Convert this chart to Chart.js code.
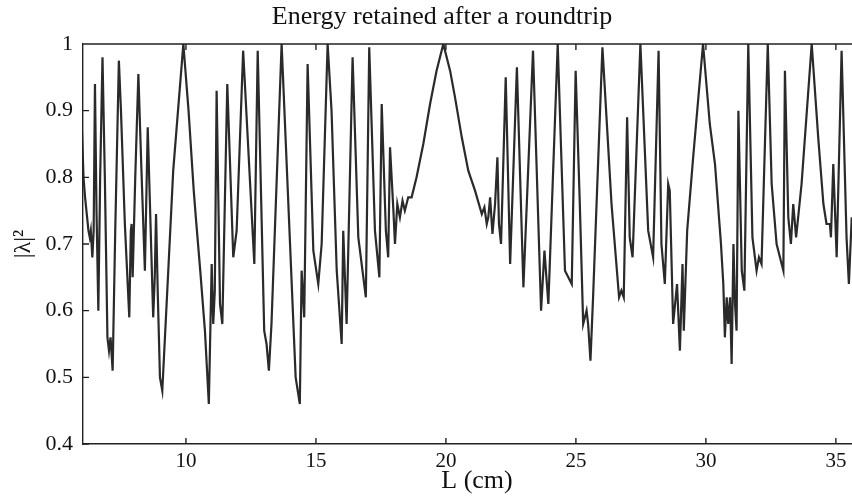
<!DOCTYPE html>
<html>
<head>
<meta charset="utf-8">
<script src="https://cdn.jsdelivr.net/npm/chart.js@4.4.0/dist/chart.umd.min.js"></script>
<style>
  html, body { margin: 0; padding: 0; background: #fff; }
  #chart { display: block; }
</style>
</head>
<body>
<canvas id="chart" width="852" height="496"></canvas>
<script>
// Cavity length L (cm)
const lengthCm = [
  6.00, 6.06, 6.12, 6.25, 6.30, 6.34, 6.40, 6.45, 6.50, 6.56, 6.63, 6.70, 6.79, 6.88, 6.98, 7.04, 7.10, 7.18,
  7.28, 7.42, 7.50, 7.65, 7.82, 7.88, 7.91, 7.95, 8.05, 8.17, 8.28, 8.42, 8.53, 8.60, 8.74, 8.80, 8.85, 8.92,
  9.00, 9.09, 9.32, 9.51, 9.90, 10.10, 10.30, 10.38, 10.55, 10.73, 10.88,
  10.99, 11.05, 11.11, 11.18, 11.31, 11.40, 11.59, 11.82, 11.95, 12.20, 12.63, 12.76, 13.01, 13.10, 13.19, 13.29,
  13.68, 14.22, 14.38, 14.45, 14.55, 14.68, 14.90, 15.09, 15.22, 15.45,
  15.60, 15.80, 15.99, 16.05, 16.18, 16.41, 16.63, 16.92, 17.05, 17.27, 17.44, 17.53, 17.69, 17.78, 17.85, 17.98,
  18.04, 18.13, 18.23, 18.33, 18.42, 18.55, 18.68, 18.87, 19.13, 19.39, 19.64, 19.90, 20.16,
  20.35, 20.61, 20.86, 21.12, 21.38, 21.48, 21.57, 21.63, 21.70, 21.79, 21.89, 21.98, 22.04, 22.12, 22.30, 22.47,
  22.73, 22.98, 23.35, 23.66, 23.79, 23.94, 24.30, 24.58, 24.84, 24.99,
  25.15, 25.28, 25.41, 25.47, 25.56, 25.66, 26.02, 26.37, 26.66, 26.75, 26.84, 26.97, 27.07, 27.18, 27.48, 27.78,
  27.97, 28.18, 28.29, 28.42, 28.55, 28.61, 28.74, 28.89, 29.00, 29.10, 29.15, 29.28, 29.51, 29.89, 30.15,
  30.35, 30.58, 30.67, 30.73, 30.80, 30.86, 30.93, 30.99, 31.06, 31.12, 31.18, 31.25, 31.38, 31.48, 31.63, 31.79,
  31.95, 32.04, 32.14, 32.38, 32.53, 32.72, 32.98, 33.04, 33.17, 33.27, 33.36, 33.47, 33.68, 34.07, 34.32, 34.52,
  34.64, 34.77, 34.81, 34.90, 35.03, 35.22, 35.41, 35.50, 35.61
];

// Energy retained |lambda|^2 at each length
const retained = [
  0.87, 0.80, 0.77, 0.72, 0.71, 0.72, 0.68, 0.72, 0.94, 0.75, 0.60, 0.80, 0.98, 0.80, 0.56, 0.54, 0.56, 0.51,
  0.72, 0.975, 0.90, 0.73, 0.59, 0.72, 0.73, 0.65, 0.80, 0.955, 0.82, 0.66, 0.875, 0.78, 0.59, 0.65, 0.745, 0.62,
  0.50, 0.48, 0.66, 0.81, 1.00, 0.90, 0.78, 0.74, 0.66, 0.57, 0.46,
  0.67, 0.58, 0.63, 0.93, 0.61, 0.58, 0.94, 0.68, 0.72, 0.99, 0.67, 0.99, 0.57, 0.55, 0.51, 0.58,
  1.00, 0.50, 0.46, 0.66, 0.59, 0.97, 0.69, 0.64, 0.70, 1.00,
  0.90, 0.66, 0.55, 0.72, 0.58, 0.98, 0.71, 0.62, 0.995, 0.72, 0.65, 0.91, 0.72, 0.68, 0.845, 0.75,
  0.70, 0.76, 0.74, 0.765, 0.75, 0.77, 0.77, 0.80, 0.85, 0.91, 0.96, 1.00, 0.96,
  0.92, 0.86, 0.81, 0.78, 0.745, 0.755, 0.73, 0.74, 0.77, 0.715, 0.76, 0.83, 0.73, 0.70, 0.95, 0.67,
  0.965, 0.635, 0.99, 0.60, 0.69, 0.61, 1.00, 0.66, 0.64, 0.96,
  0.76, 0.58, 0.60, 0.58, 0.525, 0.62, 0.995, 0.76, 0.62, 0.63, 0.62, 0.89, 0.71, 0.68, 1.00, 0.72,
  0.68, 0.99, 0.70, 0.64, 0.79, 0.78, 0.58, 0.64, 0.54, 0.67, 0.57, 0.72, 0.83, 1.00, 0.88,
  0.82, 0.70, 0.64, 0.56, 0.62, 0.58, 0.62, 0.52, 0.70, 0.61, 0.57, 0.90, 0.66, 0.63, 1.00, 0.71,
  0.66, 0.68, 0.67, 1.00, 0.79, 0.70, 0.66, 0.96, 0.74, 0.70, 0.76, 0.71, 0.79, 1.00, 0.86, 0.76,
  0.73, 0.73, 0.71, 0.82, 0.68, 0.99, 0.71, 0.64, 0.74
];

const xTicks = [10, 15, 20, 25, 30, 35];
const yTicks = [0.4, 0.5, 0.6, 0.7, 0.8, 0.9, 1];

const serif = "'Liberation Serif', 'DejaVu Serif', serif";
const ink = "#222";

// MATLAB-style box: top line, inward ticks, titles
const framePlugin = {
  id: "frame",
  afterDraw(chart) {
    const { ctx, chartArea: a, scales } = chart;
    ctx.save();
    ctx.strokeStyle = ink;
    ctx.lineWidth = 1.4;
    ctx.beginPath();
    ctx.moveTo(a.left, a.top);
    ctx.lineTo(a.right, a.top);
    xTicks.forEach((v) => {
      const px = scales.x.getPixelForValue(v);
      ctx.moveTo(px, a.bottom);
      ctx.lineTo(px, a.bottom - 6);
      ctx.moveTo(px, a.top);
      ctx.lineTo(px, a.top + 6);
    });
    yTicks.forEach((v) => {
      const py = scales.y.getPixelForValue(v);
      ctx.moveTo(a.left, py);
      ctx.lineTo(a.left + 6, py);
    });
    ctx.stroke();

    ctx.fillStyle = "#111";
    ctx.textAlign = "center";
    ctx.textBaseline = "middle";
    ctx.font = "26px " + serif;
    ctx.fillText("Energy retained after a roundtrip", 442, 17);
    ctx.font = "26px " + serif;
    ctx.fillText("L (cm)", 477, 481);
    ctx.translate(24, 244);
    ctx.rotate(-Math.PI / 2);
    ctx.font = "24px " + serif;
    ctx.fillText("|λ|²", 0, 0);
    ctx.restore();
  },
};

new Chart(document.getElementById("chart"), {
  type: "line",
  data: {
    datasets: [
      {
        data: lengthCm.map((x, i) => ({ x, y: retained[i] })),
        borderColor: "#2a2a2a",
        borderWidth: 2.2,
        pointRadius: 0,
        tension: 0,
      },
    ],
  },
  options: {
    responsive: false,
    animation: false,
    layout: { padding: { top: 44, left: 0, right: 0, bottom: 0 } },
    plugins: { legend: { display: false }, tooltip: { enabled: false } },
    scales: {
      x: {
        type: "linear",
        min: 6.04,
        max: 35.62,
        afterBuildTicks: (s) => { s.ticks = xTicks.map((v) => ({ value: v })); },
        afterFit: (s) => { s.height = 52; },
        grid: { display: false, drawTicks: false },
        border: { display: true, color: ink, width: 1.4 },
        ticks: { color: "#111", font: { family: serif, size: 21 }, padding: 5, maxRotation: 0 },
      },
      y: {
        min: 0.4,
        max: 1,
        afterBuildTicks: (s) => { s.ticks = yTicks.map((v) => ({ value: v })); },
        afterFit: (s) => { s.width = 83; },
        grid: { display: false, drawTicks: false },
        border: { display: true, color: ink, width: 1.4 },
        ticks: {
          color: "#111",
          font: { family: serif, size: 22 },
          padding: 10,
          callback: (v) => String(+v.toFixed(1)),
        },
      },
    },
  },
  plugins: [framePlugin],
});
</script>
</body>
</html>
